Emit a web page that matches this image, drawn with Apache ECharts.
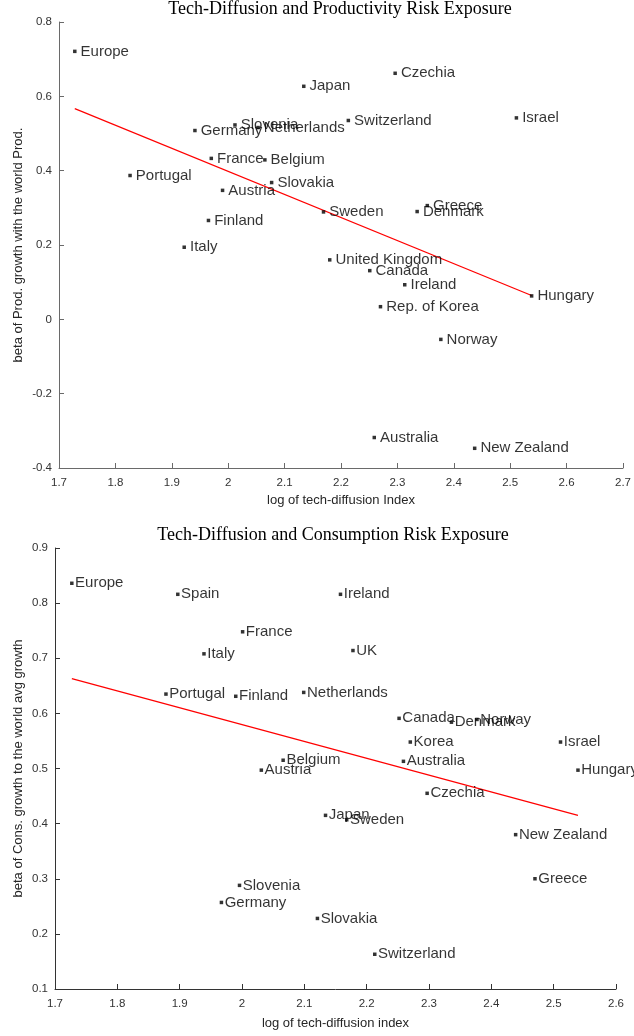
<!DOCTYPE html>
<html>
<head>
<meta charset="utf-8">
<script src="https://cdn.jsdelivr.net/npm/echarts@6/dist/echarts.min.js"></script>
<style>
html,body{margin:0;padding:0;background:#fff;}
#c{width:634px;height:1036px;}
</style>
</head>
<body>
<div id="c"></div>
<script>
// ---- Top chart: productivity ----
var prodNames = ['Europe','Japan','Czechia','Germany','Slovenia','Netherlands','Switzerland','Israel','France','Belgium','Portugal','Slovakia','Austria','Sweden','Greece','Denmark','Finland','Italy','United Kingdom','Canada','Ireland','Hungary','Rep. of Korea','Norway','Australia','New Zealand'];
var prodX = [1.728,2.134,2.296,1.941,2.012,2.053,2.213,2.511,1.970,2.065,1.826,2.077,1.990,2.169,2.353,2.335,1.965,1.922,2.180,2.251,2.313,2.538,2.270,2.377,2.259,2.437];
var prodY = [0.721,0.627,0.662,0.508,0.523,0.516,0.535,0.542,0.433,0.429,0.387,0.368,0.347,0.289,0.306,0.290,0.266,0.194,0.160,0.131,0.093,0.063,0.034,-0.054,-0.318,-0.347];
var prodFitX = [1.728, 2.538];
var prodFitY = [0.567, 0.064];
var prodXTicks = [1.7, 2.7, 0.1];
var prodYTicks = [-0.4, 0.8, 0.2];

// ---- Bottom chart: consumption ----
var consNames = ['Europe','Spain','Ireland','France','Italy','UK','Portugal','Finland','Netherlands','Canada','Denmark','Norway','Korea','Israel','Australia','Belgium','Austria','Hungary','Czechia','Japan','Sweden','New Zealand','Greece','Slovenia','Germany','Slovakia','Switzerland'];
var consX = [1.727,1.897,2.158,2.001,1.939,2.178,1.878,1.990,2.099,2.252,2.336,2.377,2.270,2.511,2.259,2.066,2.031,2.539,2.297,2.134,2.168,2.439,2.470,1.996,1.967,2.121,2.213];
var consY = [0.836,0.816,0.816,0.748,0.708,0.714,0.635,0.631,0.638,0.591,0.584,0.589,0.548,0.548,0.513,0.515,0.497,0.497,0.455,0.415,0.407,0.380,0.300,0.288,0.257,0.228,0.163];
var consFitX = [1.727, 2.539];
var consFitY = [0.663, 0.415];
var consXTicks = [1.7, 2.6, 0.1];
var consYTicks = [0.1, 0.9, 0.1];

function pts(xs, ys, names){
  return xs.map(function(x,i){ return [x, ys[i], names ? names[i] : '']; });
}

var sans = 'Liberation Sans';
function xAxis(idx, t, name, gap, col){
  return {type:'value', gridIndex:idx, min:t[0], max:t[1], interval:t[2],
    name:name, nameLocation:'middle', nameGap:gap, nameMoveOverlap:false,
    nameTextStyle:{fontFamily:sans, fontSize:13, color:'#262626'},
    axisLine:{show:true, onZero:false, lineStyle:{color:col, width:1}},
    axisTick:{show:true, inside:true, length:5, lineStyle:{color:col}},
    axisLabel:{fontFamily:sans, fontSize:11.5, color:'#333', margin:9},
    splitLine:{show:false}};
}
function yAxis(idx, t, name, gap, col){
  return {type:'value', gridIndex:idx, min:t[0], max:t[1], interval:t[2],
    name:name, nameLocation:'middle', nameGap:gap, nameRotate:90, nameMoveOverlap:false,
    nameTextStyle:{fontFamily:sans, fontSize:13, color:'#262626'},
    axisLine:{show:true, onZero:false, lineStyle:{color:col, width:1}},
    axisTick:{show:true, inside:true, length:5, lineStyle:{color:col}},
    axisLabel:{fontFamily:sans, fontSize:11.5, color:'#333', margin:7},
    splitLine:{show:false}};
}
function scatter(idx, data, dist){
  return {type:'scatter', xAxisIndex:idx, yAxisIndex:idx, data:data,
    symbol:'rect', symbolSize:3.5, itemStyle:{color:'#000'},
    label:{show:true, position:'right', distance:dist, fontFamily:sans, fontSize:15, color:'#000',
      formatter:function(p){ return p.data[2]; }},
    silent:true, animation:false};
}
function fit(idx, data){
  return {type:'line', xAxisIndex:idx, yAxisIndex:idx, data:data, symbol:'none',
    lineStyle:{color:'#ff0000', width:1.2}, silent:true, animation:false, z:1};
}

var chart = echarts.init(document.getElementById('c'), null, {renderer:'canvas'});
chart.setOption({
  backgroundColor:'#fff',
  animation:false,
  title:[
    {text:'Tech-Diffusion and Productivity Risk Exposure', left:340, top:0, padding:0, textAlign:'center',
     textStyle:{fontFamily:'Liberation Serif', fontSize:18, fontWeight:'normal', color:'#000'}},
    {text:'Tech-Diffusion and Consumption Risk Exposure', left:333, top:526, padding:0, textAlign:'center',
     textStyle:{fontFamily:'Liberation Serif', fontSize:18, fontWeight:'normal', color:'#000'}}
  ],
  grid:[
    {left:59, top:22, width:567, height:446},
    {left:55, top:548, width:561, height:441}
  ],
  xAxis:[
    xAxis(0, prodXTicks, 'log of tech-diffusion Index', 26, '#6a6a6a'),
    xAxis(1, consXTicks, 'log of tech-diffusion index', 28, '#333')
  ],
  yAxis:[
    yAxis(0, prodYTicks, 'beta of Prod. growth with the world Prod.', 34, '#6a6a6a'),
    yAxis(1, consYTicks, 'beta of Cons. growth to the world avg growth', 30, '#333')
  ],
  series:[
    fit(0, pts(prodFitX, prodFitY)),
    scatter(0, pts(prodX, prodY, prodNames), 4),
    fit(1, pts(consFitX, consFitY)),
    scatter(1, pts(consX, consY, consNames), 1.5)
  ]
});
</script>
</body>
</html>
